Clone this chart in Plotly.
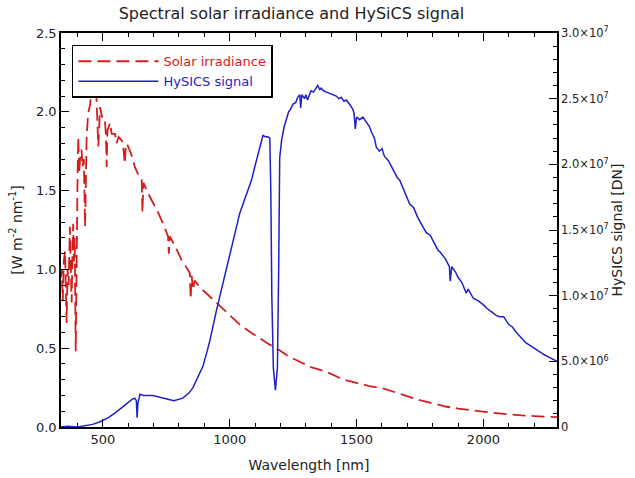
import plotly.graph_objects as go

# ---------------- data ----------------
solar_wavelength_nm = [335, 338, 342, 346, 351, 354, 357, 361, 365, 370, 374, 377, 380, 383, 386, 389,
                       393, 397, 400, 403, 407, 410, 416, 420, 425, 430, 433, 436, 442, 450, 456, 462,
                       469, 475, 482, 486, 489, 495, 500, 508, 512, 515, 518, 528, 535, 548, 554, 562,
                       574, 580, 587, 590, 594, 610, 626, 640, 653, 656, 660, 679, 700, 718, 740, 757,
                       760, 764, 790, 810, 830, 843, 846, 850, 855, 862, 880, 900, 930, 954, 980, 1000,
                       1040, 1079, 1120, 1150, 1184, 1230, 1276, 1320, 1381, 1407, 1450, 1500, 1550,
                       1604, 1650, 1700, 1750, 1801, 1850, 1900, 1950, 1998, 2050, 2100, 2150, 2200,
                       2260, 2300]
solar_irradiance = [0.95, 1.00, 0.80, 1.05, 1.12, 0.85, 0.66, 1.00, 0.90, 1.27, 1.05, 0.79, 1.10, 1.29,
                    1.05, 1.20, 0.48, 1.46, 1.55, 1.84, 1.61, 1.70, 1.76, 1.65, 1.70, 1.27, 1.75, 1.84,
                    1.99, 2.05, 2.16, 2.10, 2.13, 2.08, 1.78, 2.00, 2.03, 1.98, 1.95, 1.95, 1.85, 1.65,
                    1.88, 1.93, 1.86, 1.86, 1.80, 1.84, 1.82, 1.78, 1.67, 1.78, 1.80, 1.74, 1.65, 1.60,
                    1.57, 1.36, 1.55, 1.48, 1.42, 1.36, 1.28, 1.21, 1.10, 1.21, 1.13, 1.06, 1.01, 0.975,
                    0.81, 0.96, 0.87, 0.93, 0.89, 0.86, 0.82, 0.785, 0.74, 0.71, 0.65, 0.605, 0.56, 0.53,
                    0.50, 0.45, 0.414, 0.38, 0.35, 0.33, 0.30, 0.28, 0.26, 0.245, 0.22, 0.195, 0.17,
                    0.15, 0.13, 0.117, 0.105, 0.097, 0.088, 0.080, 0.074, 0.069, 0.065, 0.062]

hysics_wavelength_nm = [335, 360, 400, 430, 460, 489, 520, 550, 575, 595, 615, 626, 632, 635, 638, 646,
                        660, 697, 730, 764, 780, 815, 840, 855, 870, 882, 894, 910, 922, 948, 975, 1000,
                        1020, 1040, 1060, 1086, 1100, 1115, 1131, 1140, 1150, 1158, 1162, 1166, 1172,
                        1180, 1188, 1193, 1197, 1205, 1215, 1223, 1232, 1240, 1250, 1260, 1268, 1276,
                        1280, 1284, 1295, 1300, 1307, 1320, 1330, 1347, 1355, 1360, 1370, 1381, 1394,
                        1405, 1420, 1430, 1440, 1450, 1460, 1475, 1485, 1490, 1495, 1500, 1512, 1525,
                        1540, 1550, 1560, 1570, 1578, 1590, 1600, 1610, 1625, 1643, 1660, 1670, 1680,
                        1695, 1709, 1725, 1740, 1760, 1775, 1790, 1801, 1820, 1830, 1850, 1866, 1869,
                        1875, 1890, 1900, 1915, 1932, 1940, 1960, 1980, 2000, 2015, 2030, 2050, 2063,
                        2080, 2100, 2115, 2130, 2150, 2168, 2185, 2200, 2220, 2240, 2260, 2286, 2300]
hysics_signal_dn = [0.0, 0.05e6, 0.0, 0.1e6, 0.2e6, 0.4e6, 0.7e6, 1.1e6, 1.5e6, 1.8e6, 2.1e6, 2.2e6,
                    2.0e6, 0.7e6, 1.8e6, 2.5e6, 2.4e6, 2.4e6, 2.25e6, 2.1e6, 2.0e6, 2.2e6, 2.6e6, 3.0e6,
                    3.6e6, 4.0e6, 4.6e6, 5.7e6, 6.6e6, 8.9e6, 11.0e6, 13.0e6, 14.7e6, 16.3e6, 17.4e6,
                    18.8e6, 19.9e6, 21.0e6, 22.2e6, 22.1e6, 22.1e6, 22.0e6, 18.0e6, 10.0e6, 4.5e6,
                    2.8e6, 4.5e6, 12.0e6, 20.5e6, 21.9e6, 22.9e6, 23.4e6, 24.0e6, 24.2e6, 24.6e6,
                    24.7e6, 25.1e6, 25.3e6, 24.3e6, 25.3e6, 25.0e6, 25.3e6, 24.9e6, 25.6e6, 25.5e6,
                    26.0e6, 25.7e6, 25.8e6, 25.6e6, 25.5e6, 25.4e6, 25.3e6, 25.2e6, 25.0e6, 25.1e6,
                    24.8e6, 24.9e6, 24.5e6, 24.2e6, 23.9e6, 22.7e6, 23.6e6, 23.4e6, 23.6e6, 23.2e6,
                    22.9e6, 22.4e6, 22.0e6, 21.3e6, 21.0e6, 21.2e6, 20.6e6, 20.3e6, 19.6e6, 19.0e6,
                    18.8e6, 18.3e6, 17.7e6, 17.0e6, 16.7e6, 16.0e6, 15.3e6, 14.8e6, 14.6e6, 14.2e6,
                    13.5e6, 13.3e6, 12.8e6, 12.2e6, 11.1e6, 12.2e6, 11.8e6, 11.4e6, 11.0e6, 10.2e6,
                    10.5e6, 9.8e6, 9.6e6, 9.3e6, 9.0e6, 8.8e6, 8.5e6, 8.4e6, 8.4e6, 7.8e6, 7.6e6,
                    7.2e6, 6.8e6, 6.4e6, 6.2e6, 6.0e6, 5.8e6, 5.5e6, 5.3e6, 5.0e6, 4.9e6]

x_range = [335, 2290]
left_range = [0, 2.5]
right_range = [0, 3.0e7]
right_tickvals = [0, 5e6, 1e7, 1.5e7, 2e7, 2.5e7, 3e7]
right_ticktext = ["0", "5.0×10<sup>6</sup>", "1.0×10<sup>7</sup>", "1.5×10<sup>7</sup>",
                  "2.0×10<sup>7</sup>", "2.5×10<sup>7</sup>", "3.0×10<sup>7</sup>"]

RED = "#d41e1e"
BLUE = "#1f1fc8"
FONT = "DejaVu Sans"

fig = go.Figure()
fig.add_trace(go.Scatter(
    x=solar_wavelength_nm, y=solar_irradiance, mode="lines",
    name=f"<span style='color:{RED}'>Solar irradiance</span>",
    line=dict(color=RED, width=1.8, dash="13px,6px"), yaxis="y"))
fig.add_trace(go.Scatter(
    x=hysics_wavelength_nm, y=hysics_signal_dn, mode="lines",
    name=f"<span style='color:{BLUE}'>HySICS signal</span>",
    line=dict(color=BLUE, width=1.5), yaxis="y2"))

axis_common = dict(showline=True, linecolor="black", linewidth=1.5, ticks="inside",
                   ticklen=8, tickwidth=1.3, tickcolor="black", showgrid=False, zeroline=False,
                   automargin=False)

fig.update_layout(
    template="none",
    width=635, height=478,
    margin=dict(l=61, r=78, t=33, b=51, autoexpand=False),
    paper_bgcolor="white", plot_bgcolor="white",
    font=dict(family=FONT, size=13, color="#222"),
    title=dict(text="Spectral solar irradiance and HySiCS signal", x=0.459, xanchor="center",
               y=0.971, yanchor="middle", font=dict(family=FONT, size=16, color="#222")),
    xaxis=dict(range=x_range, tick0=0, dtick=500, mirror="ticks",
               tickfont=dict(family=FONT, size=13, color="#222"),
               minor=dict(dtick=100, ticklen=4, ticks="inside", tickcolor="black"),
               title=dict(text="Wavelength [nm]", font=dict(family=FONT, size=14), standoff=14),
               **axis_common),
    yaxis=dict(range=left_range, dtick=0.5, tickformat=".1f",
               tickfont=dict(family=FONT, size=13, color="#222"),
               minor=dict(dtick=0.1, ticklen=4, ticks="inside", tickcolor="black"),
               title=dict(text="[W m<sup>-2</sup> nm<sup>-1</sup>]", font=dict(family=FONT, size=14),
                          standoff=10),
               **axis_common),
    yaxis2=dict(range=right_range, overlaying="y", side="right", tickvals=right_tickvals,
                ticktext=right_ticktext,
                tickfont=dict(family=FONT, size=11.5, color="#222"),
                minor=dict(dtick=1e6, ticklen=4, ticks="inside", tickcolor="black"),
                title=dict(text="HySICS signal [DN]", font=dict(family=FONT, size=14), standoff=0),
                **axis_common),
    legend=dict(x=0.022, y=0.97, xanchor="left", yanchor="top", bgcolor="white",
                bordercolor="black", borderwidth=1.5, itemwidth=80,
                font=dict(family=FONT, size=13), tracegroupgap=0),
    showlegend=True,
)

# remove the default 8 px page margin so the 635x478 figure fills the window exactly
fig.write_html("out.html", config={"displayModeBar": False},
               post_script="document.body.style.margin='0px';")
